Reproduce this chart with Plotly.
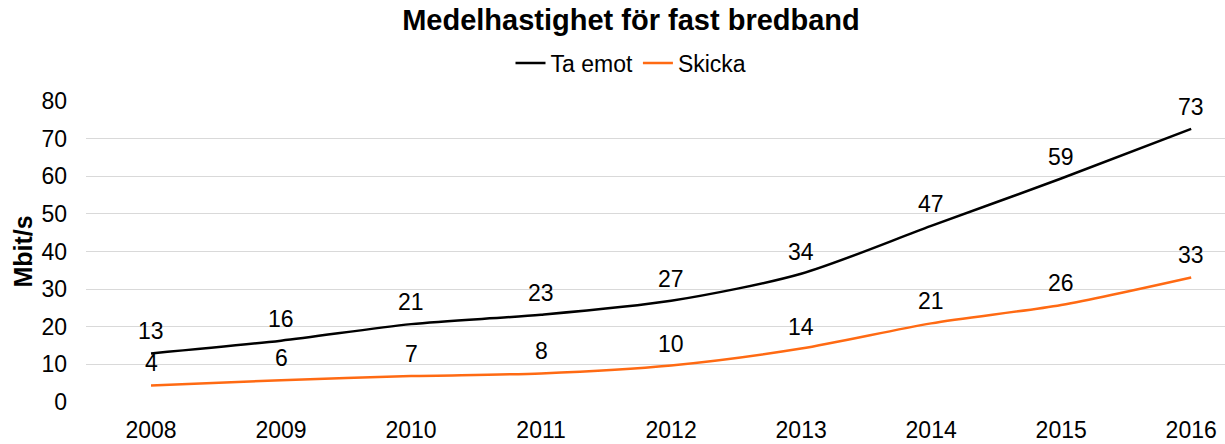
import plotly.graph_objects as go

years = ["2008", "2009", "2010", "2011", "2012", "2013", "2014", "2015", "2016"]
ta_emot = [12.9, 16.3, 20.7, 23.2, 26.9, 34.1, 46.8, 59.4, 72.6]
skicka = [4.4, 5.8, 6.9, 7.6, 9.7, 14.2, 20.9, 25.8, 33.1]
yticks = [0, 10, 20, 30, 40, 50, 60, 70, 80]

FONT = "Liberation Sans, Arial, sans-serif"

fig = go.Figure()
for name, vals, color in [("Ta emot", ta_emot, "#000000"), ("Skicka", skicka, "#FF6A13")]:
    fig.add_trace(go.Scatter(
        x=years, y=vals, name=name, mode="lines",
        line=dict(color=color, width=2.5, shape="spline", smoothing=0.8),
        cliponaxis=False, hoverinfo="x+y+name",
    ))
    for i, yv in enumerate(vals):
        fig.add_annotation(x=i, y=yv, xref="x", yref="y", text=str(round(yv)), showarrow=False,
                           yshift=22, xanchor="center", yanchor="middle",
                           font=dict(family=FONT, size=23, color="#000000"))

fig.update_layout(
    width=1225, height=444,
    margin=dict(l=86, r=0, t=101, b=42, autoexpand=False),
    paper_bgcolor="white", plot_bgcolor="white",
    font=dict(family=FONT, size=23, color="#000000"),
    title=dict(text="<b>Medelhastighet för fast bredband</b>", x=631 / 1225, xanchor="center",
               xref="container", y=1 - 20 / 444, yref="container", yanchor="middle",
               font=dict(family=FONT, size=29, color="#000000")),
    legend=dict(orientation="h", x=(631 - 86) / 1139, xanchor="center", xref="paper",
                y=1 + 38 / 301, yanchor="middle",
                font=dict(family=FONT, size=23, color="#000000"),
                itemwidth=30, tracegroupgap=0, bgcolor="rgba(0,0,0,0)"),
    showlegend=True,
)
fig.update_xaxes(type="category", range=[-0.5, 8.26], showgrid=False, zeroline=False,
                 showline=False, ticks="", automargin=False, ticklabelstandoff=12,
                 tickfont=dict(family=FONT, size=23, color="#000000"))
fig.update_yaxes(range=[0, 80], tickvals=yticks, showgrid=True, gridcolor="#D9D9D9",
                 gridwidth=1, zeroline=False, showline=False, ticks="", automargin=False,
                 ticklabelstandoff=18,
                 tickfont=dict(family=FONT, size=23, color="#000000"),
                 title=dict(text="<b>Mbit/s</b>", font=dict(family=FONT, size=25, color="#000000"),
                            standoff=1))

fig.write_html("out.html", config={"displayModeBar": False},
               post_script="document.body.style.margin='0';")
